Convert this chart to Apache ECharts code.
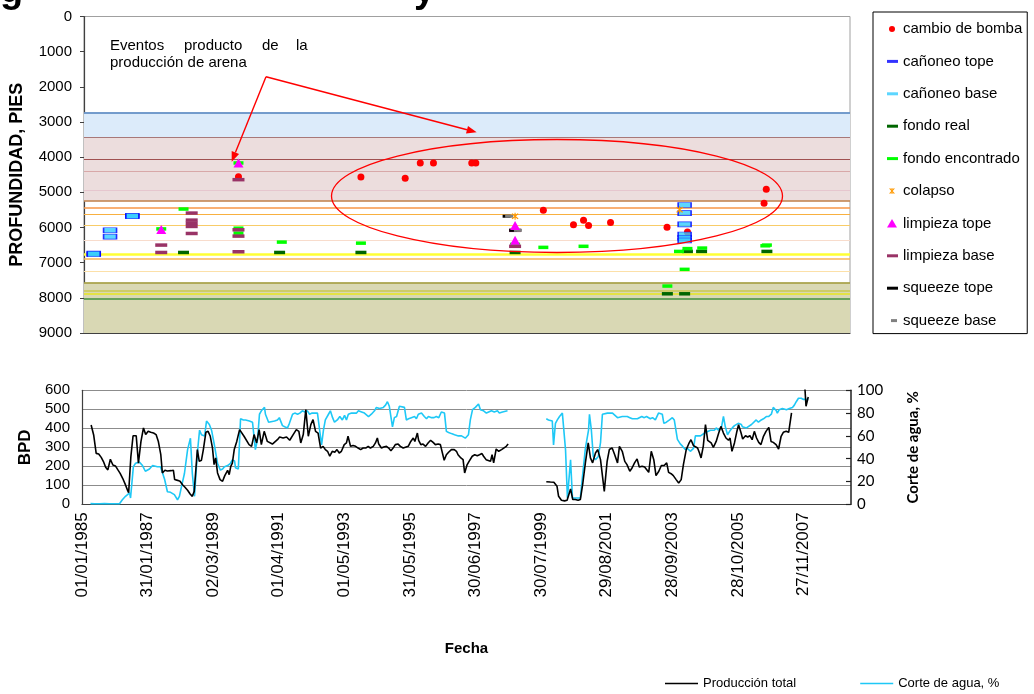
<!DOCTYPE html>
<html><head><meta charset="utf-8">
<script src="https://cdn.jsdelivr.net/npm/echarts@6/dist/echarts.min.js"></script>
<style>html,body{margin:0;padding:0;background:#fff}#c{width:1034px;height:694px}</style>
</head><body><div id="c"></div>
<script>
// ---------------- DATA ----------------
const xTickLabels = ['01/01/1985','31/01/1987','02/03/1989','01/04/1991','01/05/1993','31/05/1995','30/06/1997','30/07/1999','29/08/2001','28/09/2003','28/10/2005','27/11/2007'];
const xTickStepDays = 760;
const xMaxDays = 8911;

// formation bands (depth, ft)
const bandTop = [2725, 3440, 7563];
const bandBottom = [3440, 5250, 9000];
// horizon lines (depth, ft)
const horizonDepth = [2725, 3440, 4050, 4400, 4935, 5250, 5445, 5617, 5930, 6350, 6747, 6889, 7250, 7563, 7800, 7893, 8036];

// events: [year, depth ft]
const cambioBomba = [[1989.92,4555],[1993.82,4565],[1995.23,4600],[1995.71,4165],[1996.13,4165],[1997.35,4165],[1997.48,4165],[1999.63,5510],[2000.59,5920],[2000.91,5795],[2001.07,5945],[2001.77,5855],[2003.57,5995],[2004.22,6125],[2006.66,5310],[2006.73,4910]];
const canoneoTope = [[1985.31,6740],[1985.83,6080],[1986.54,5665],[2004.13,5360],[2004.13,5910],[2004.13,6200]];
const canoneoBase = [[1985.31,6760],[1985.83,6260],[1986.54,5680],[2004.13,5590],[2004.13,6290],[2004.13,6370]];
const fondoReal = [[1988.17,6710],[1991.23,6710],[1993.82,6710],[1998.73,6710],[2003.58,7885],[2004.13,7885],[2004.22,6680],[2004.67,6680],[2006.75,6680]];
const fondoEncontrado = [[1987.46,6040],[1988.17,5475],[1989.92,4165],[1989.92,6020],[1989.92,6160],[1991.30,6415],[1993.82,6445],[1998.73,6480],[1999.63,6565],[2000.91,6535],[2003.95,6680],[2004.22,6600],[2004.69,6585],[2004.13,7190],[2003.58,7665],[2006.70,6520],[2006.75,6500]];
const colapso = [[1998.73,5680],[2003.97,5495]];
const limpiezaTope = [[1987.46,6060],[1989.92,4165],[1998.73,5945],[1998.73,6365]];
const limpiezaBase = [[1987.46,6500],[1987.46,6710],[1988.43,5590],[1988.43,5790],[1988.43,5880],[1988.43,5970],[1988.43,6170],[1989.92,4640],[1989.92,6065],[1989.92,6245],[1989.92,6690],[1998.73,6080],[1998.73,6535]];
const squeezeTope = [[1998.46,5680],[1998.67,6080]];
const squeezeBase = [[1998.54,5680],[1998.82,6080]];

// production, BPD: [year, value]
const prodSeg1 = [[1985.29,417],[1985.37,365],[1985.45,268],[1985.53,265],[1985.61,247],[1985.68,225],[1985.75,195],[1985.82,181],[1985.90,237],[1985.98,207],[1986.06,202],[1986.14,181],[1986.21,163],[1986.29,137],[1986.38,102],[1986.45,72],[1986.48,61],[1986.55,250],[1986.62,361],[1986.72,361],[1986.79,217],[1986.87,330],[1986.95,402],[1987.02,367],[1987.10,384],[1987.18,379],[1987.27,375],[1987.35,367],[1987.42,332],[1987.50,261],[1987.55,165],[1987.63,179],[1987.71,175],[1987.82,177],[1987.90,179],[1987.94,130],[1988.03,126],[1988.11,121],[1988.19,103],[1988.26,91],[1988.35,74],[1988.43,54],[1988.50,42],[1988.56,68],[1988.66,288],[1988.72,226],[1988.79,232],[1988.85,288],[1988.93,379],[1989.00,384],[1989.07,358],[1989.14,296],[1989.19,209],[1989.24,244],[1989.30,165],[1989.38,130],[1989.46,121],[1989.53,151],[1989.62,179],[1989.67,156],[1989.72,200],[1989.77,217],[1989.83,288],[1989.91,331],[1990.00,393],[1990.06,393],[1990.14,358],[1990.30,314],[1990.38,305],[1990.46,367],[1990.54,323],[1990.62,393],[1990.69,314],[1990.78,384],[1990.88,331],[1991.04,317],[1991.20,340],[1991.27,354],[1991.38,349],[1991.49,354],[1991.59,337],[1991.70,367],[1991.80,393],[1991.88,384],[1991.94,323],[1992.02,367],[1992.10,498],[1992.18,358],[1992.26,419],[1992.33,446],[1992.41,384],[1992.49,375],[1992.57,296],[1992.65,305],[1992.72,288],[1992.79,279],[1992.86,253],[1992.94,279],[1993.02,274],[1993.09,288],[1993.16,270],[1993.23,279],[1993.32,314],[1993.39,323],[1993.44,358],[1993.52,305],[1993.60,309],[1993.68,305],[1993.76,296],[1993.84,288],[1993.92,296],[1994.00,296],[1994.08,305],[1994.15,296],[1994.24,305],[1994.31,323],[1994.37,349],[1994.41,319],[1994.50,296],[1994.57,302],[1994.66,305],[1994.73,296],[1994.80,282],[1994.87,296],[1994.94,314],[1995.03,317],[1995.10,305],[1995.19,296],[1995.26,300],[1995.35,305],[1995.43,331],[1995.51,349],[1995.56,331],[1995.64,375],[1995.68,337],[1995.75,314],[1995.82,317],[1995.90,305],[1995.98,323],[1996.06,337],[1996.14,326],[1996.21,314],[1996.30,317],[1996.37,314],[1996.43,305],[1996.49,232],[1996.56,261],[1996.63,274],[1996.72,288],[1996.81,288],[1996.88,279],[1996.93,261],[1997.02,244],[1997.09,235],[1997.14,165],[1997.22,209],[1997.28,226],[1997.38,253],[1997.46,261],[1997.54,256],[1997.61,261],[1997.69,267],[1997.74,253],[1997.82,235],[1997.88,244],[1997.96,226],[1998.01,261],[1998.06,218],[1998.14,291],[1998.22,279],[1998.31,288],[1998.38,296],[1998.46,305],[1998.52,317]];
const prodSeg2 = [[1999.73,119],[1999.86,117],[1999.97,116],[2000.02,112],[2000.07,95],[2000.12,42],[2000.21,21],[2000.31,18],[2000.39,21],[2000.50,81],[2000.57,25],[2000.65,25],[2000.74,21],[2000.81,25],[2000.89,112],[2000.97,218],[2001.06,323],[2001.13,244],[2001.20,218],[2001.29,270],[2001.36,288],[2001.45,235],[2001.50,165],[2001.57,68],[2001.66,226],[2001.73,288],[2001.82,296],[2001.90,261],[2001.99,218],[2002.05,305],[2002.14,279],[2002.22,226],[2002.29,209],[2002.38,174],[2002.45,191],[2002.53,218],[2002.61,239],[2002.68,196],[2002.77,200],[2002.85,196],[2002.93,179],[2002.98,168],[2003.06,279],[2003.14,235],[2003.21,151],[2003.30,174],[2003.38,204],[2003.47,204],[2003.55,218],[2003.61,168],[2003.69,161],[2003.76,151],[2003.85,130],[2003.93,112],[2004.01,130],[2004.08,209],[2004.17,288],[2004.25,319],[2004.32,340],[2004.40,309],[2004.46,319],[2004.53,296],[2004.59,270],[2004.64,244],[2004.71,305],[2004.78,419],[2004.85,337],[2004.96,323],[2005.03,300],[2005.12,331],[2005.20,375],[2005.27,410],[2005.35,375],[2005.43,349],[2005.51,337],[2005.56,349],[2005.62,279],[2005.70,323],[2005.77,379],[2005.83,419],[2005.91,375],[2005.96,344],[2006.05,361],[2006.12,354],[2006.19,361],[2006.26,340],[2006.33,384],[2006.40,349],[2006.47,326],[2006.54,314],[2006.62,358],[2006.70,384],[2006.79,405],[2006.86,331],[2006.93,326],[2007.02,314],[2007.10,291],[2007.18,358],[2007.25,379],[2007.34,384],[2007.42,379],[2007.51,481]];
const prodSeg3 = [[2007.92,650],[2007.97,516],[2008.04,565]];

// water cut, %: [year, value]
const cutSeg1 = [[1985.27,0.6],[1985.40,0.5],[1985.56,0.5],[1985.71,0.6],[1985.87,0.5],[1986.03,0.5],[1986.19,0.5],[1986.28,4],[1986.38,7],[1986.51,10],[1986.54,5.5],[1986.63,33],[1986.70,36],[1986.82,37],[1986.92,34],[1987.01,29],[1987.14,31],[1987.24,34],[1987.30,35],[1987.39,33],[1987.49,33],[1987.55,34],[1987.62,22],[1987.71,11],[1987.81,10.5],[1987.87,10],[1987.93,8.5],[1988.03,4],[1988.09,7],[1988.16,16],[1988.25,27],[1988.35,48],[1988.44,58],[1988.50,27],[1988.57,7],[1988.60,5.5],[1988.66,45],[1988.73,65],[1988.79,61],[1988.89,60],[1988.95,73],[1989.04,70],[1989.11,65],[1989.20,52],[1989.25,51],[1989.30,36],[1989.39,30],[1989.46,31],[1989.52,33],[1989.62,34],[1989.71,36],[1989.77,39],[1989.84,38],[1989.87,32],[1989.96,31],[1990.03,75],[1990.12,74],[1990.19,74],[1990.31,73],[1990.41,72],[1990.47,71],[1990.50,48],[1990.57,57],[1990.63,79],[1990.69,82],[1990.79,85],[1990.82,79],[1990.92,72],[1990.98,71],[1991.11,73],[1991.20,74],[1991.26,76],[1991.36,69],[1991.43,68],[1991.52,67],[1991.58,71],[1991.68,79],[1991.75,80],[1991.84,79],[1991.91,80],[1991.99,82],[1992.07,81],[1992.15,82],[1992.22,79],[1992.30,80],[1992.37,80],[1992.47,80],[1992.53,80],[1992.60,52],[1992.66,65],[1992.72,74],[1992.82,79],[1992.88,82],[1992.95,76],[1993.01,72],[1993.10,74],[1993.18,77],[1993.26,74],[1993.33,78],[1993.39,74],[1993.45,79],[1993.55,80],[1993.63,80],[1993.71,80],[1993.77,82],[1993.87,81],[1993.96,80],[1994.02,79],[1994.09,77],[1994.18,79],[1994.28,82],[1994.34,85],[1994.44,84],[1994.56,85],[1994.63,87],[1994.69,90],[1994.75,86],[1994.85,68],[1994.91,76],[1994.98,77],[1995.07,86],[1995.13,85],[1995.23,85],[1995.29,74],[1995.36,75],[1995.45,76],[1995.55,77],[1995.61,75],[1995.67,79],[1995.77,80],[1995.86,77],[1995.93,75],[1995.99,77],[1996.09,76],[1996.17,76],[1996.24,77],[1996.32,76],[1996.40,81],[1996.50,80],[1996.56,64],[1996.63,63],[1996.72,62],[1996.82,61],[1996.88,61],[1996.94,60],[1997.04,60],[1997.16,58],[1997.26,61],[1997.32,74],[1997.39,83],[1997.48,85],[1997.58,88],[1997.64,83],[1997.74,82],[1997.83,80],[1997.89,81],[1997.99,82],[1998.08,81],[1998.18,82],[1998.24,80],[1998.34,81],[1998.40,82],[1998.50,82]];
const cutSeg2 = [[1999.73,75],[1999.80,74],[1999.92,73],[1999.96,52],[2000.02,71],[2000.08,74],[2000.15,77],[2000.24,80],[2000.30,81],[2000.34,48],[2000.40,5.5],[2000.46,5.5],[2000.50,39],[2000.56,5.5],[2000.59,7],[2000.69,5.5],[2000.75,7],[2000.81,5.5],[2000.88,25],[2000.97,49],[2001.07,65],[2001.10,79],[2001.16,65],[2001.22,42],[2001.29,39],[2001.38,42],[2001.45,54],[2001.51,79],[2001.57,80],[2001.67,80],[2001.73,80],[2001.83,80],[2001.89,79],[2001.99,76],[2002.05,77],[2002.14,77],[2002.22,77],[2002.30,77],[2002.38,76],[2002.46,75],[2002.52,74],[2002.62,75],[2002.68,76],[2002.76,77],[2002.84,76],[2002.91,77],[2002.97,78],[2003.03,75],[2003.10,76],[2003.19,74],[2003.29,80],[2003.35,80],[2003.41,79],[2003.46,71],[2003.54,72],[2003.64,74],[2003.73,76],[2003.79,74],[2003.89,57],[2003.98,53],[2004.05,51],[2004.14,48],[2004.21,49],[2004.30,46.5],[2004.36,48],[2004.40,49],[2004.46,60],[2004.52,60],[2004.62,60],[2004.68,60],[2004.78,63],[2004.84,62],[2004.94,65],[2005.00,65],[2005.06,65],[2005.13,67],[2005.19,65],[2005.29,68],[2005.35,77],[2005.41,68],[2005.48,61],[2005.57,65],[2005.63,67],[2005.70,69],[2005.76,68],[2005.82,71],[2005.92,70],[2005.95,68],[2006.01,69],[2006.08,67],[2006.14,68],[2006.24,70],[2006.30,71],[2006.39,74],[2006.46,72],[2006.55,74],[2006.62,75],[2006.71,77],[2006.78,77],[2006.87,79],[2006.93,85],[2007.03,82],[2007.06,80],[2007.12,83],[2007.22,84],[2007.28,84],[2007.35,83],[2007.44,84],[2007.54,85],[2007.60,87],[2007.66,90],[2007.73,93],[2007.82,93],[2007.89,92],[2007.98,92],[2008.04,92]];

// ---------------- STYLES ----------------
const FONT = '"Liberation Sans", Arial, sans-serif';
const bandColors = ['#DCEBFA', '#ECDDDD', '#D9D8B4'];
const horizonColors = ['#4F81BD','#A87878','#A05050','#D8A8A8','#E6C6CE','#C0804A','#F79646','#F8B040','#F8CC68','#F8DCCC','#FFFF33','#F8B458','#FCE0A8','#A09A3A','#C8C850','#E6E620','#3F8F3F'];
const horizonWidths = [1.5,1.2,1.2,1.2,1.2,1.5,1.5,1.2,1.2,1.2,2.5,1.5,1.2,1.5,1.5,1.5,1.5];

const toDay = y => (y - 1985) * 365.25;
const mapEv = arr => arr.map(p => [toDay(p[0]), p[1]]);
const GAP = [toDay(1999.1), null];
const prodData = prodSeg1.map(p => [toDay(p[0]), p[1]]).concat([GAP], prodSeg2.map(p => [toDay(p[0]), p[1]]), [[toDay(2007.7), null]], prodSeg3.map(p => [toDay(p[0]), p[1]]));
const cutData = cutSeg1.map(p => [toDay(p[0]), p[1]]).concat([GAP], cutSeg2.map(p => [toDay(p[0]), p[1]]));

const BOX = 'M0,0L0,0M12,16L12,16';
const icDot = 'path://' + BOX + 'M9,8A3,3,0,1,1,3,8A3,3,0,1,1,9,8Z';
const icDash = 'path://' + BOX + 'M1,6.5H12V9.5H1Z';
const icShort = 'path://' + BOX + 'M5,6.5H11V9.5H5Z';
const icTri = 'path://' + BOX + 'M6,3.5L11,12H1Z';
const icStar = 'path://' + BOX + 'M5.5,5H6.5V11H5.5ZM3.3,5.7L4,5L8.7,10.3L8,11ZM8,5L8.7,5.7L4,11L3.3,10.3Z';
const starSym = 'path://M4.3,0H5.7V10H4.3ZM0.6,1.8L1.8,0.6L9.4,8.2L8.2,9.4ZM8.2,0.6L9.4,1.8L1.8,9.4L0.6,8.2Z';

function ev(name, data, symbol, size, color, extra) {
  return Object.assign({
    name, type: 'scatter', xAxisIndex: 0, yAxisIndex: 0, data: mapEv(data),
    symbol, symbolSize: size, itemStyle: { color, opacity: 1 }, z: 5
  }, extra || {});
}

const chart = echarts.init(document.getElementById('c'), null, { renderer: 'canvas' });
const option = {
  animation: false,
  backgroundColor: '#fff',
  textStyle: { fontFamily: FONT },
  grid: [
    { left: 82, top: 16.5, width: 768, height: 316.5, show: true, borderColor: '#A0A0A0', borderWidth: 1, backgroundColor: 'transparent' },
    { left: 82, top: 390.3, width: 769, height: 114 }
  ],
  xAxis: [
    { type: 'value', gridIndex: 0, min: 0, max: xMaxDays, position: 'bottom',
      axisLine: { show: true, onZero: false, lineStyle: { color: '#404040', width: 1.2 } },
      axisTick: { show: false }, axisLabel: { show: false }, splitLine: { show: false } },
    { type: 'value', gridIndex: 1, min: 0, max: xMaxDays, interval: xTickStepDays, position: 'bottom',
      axisLine: { show: true, onZero: false, lineStyle: { color: '#404040', width: 1.2 } },
      axisTick: { show: false }, splitLine: { show: false },
      axisLabel: { rotate: 90, margin: 8, fontSize: 17, color: '#000', fontFamily: FONT, showMaxLabel: false,
        formatter: v => { const i = Math.round(v / xTickStepDays); return (Math.abs(v - i * xTickStepDays) < 1 && xTickLabels[i]) ? xTickLabels[i] : ''; } },
      name: 'Fecha', nameLocation: 'middle', nameGap: 137,
      nameTextStyle: { fontWeight: 'bold', fontSize: 15, color: '#000', fontFamily: FONT } }
  ],
  yAxis: [
    { type: 'value', gridIndex: 0, inverse: true, min: 0, max: 9000, interval: 1000,
      axisLine: { show: true, onZero: false, lineStyle: { color: '#404040', width: 1.2 } },
      axisTick: { show: true, length: 4, lineStyle: { color: '#404040' } },
      axisLabel: { margin: 12, fontSize: 15, color: '#000', fontFamily: FONT, formatter: v => String(v) },
      splitLine: { show: false },
      name: 'PROFUNDIDAD, PIES', nameLocation: 'middle', nameRotate: 90, nameGap: 58,
      nameTextStyle: { fontWeight: 'bold', fontSize: 18, color: '#000', fontFamily: FONT } },
    { type: 'value', gridIndex: 1, min: 0, max: 600, interval: 100, position: 'left',
      axisLine: { show: true, onZero: false, lineStyle: { color: '#404040', width: 1.2 } },
      axisTick: { show: false },
      axisLabel: { margin: 12, fontSize: 15, color: '#000', fontFamily: FONT, formatter: v => String(v) },
      splitLine: { show: true, lineStyle: { color: '#8C8C8C', width: 1 } },
      name: 'BPD', nameLocation: 'middle', nameRotate: 90, nameGap: 48,
      nameTextStyle: { fontWeight: 'bold', fontSize: 17, color: '#000', fontFamily: FONT } },
    { type: 'value', gridIndex: 1, min: 0, max: 100, interval: 20, position: 'right',
      axisLine: { show: true, onZero: false, lineStyle: { color: '#202020', width: 1.5 } },
      axisTick: { show: true, inside: true, length: 5, lineStyle: { color: '#202020', width: 1.2 } },
      axisLabel: { margin: 6, fontSize: 15, color: '#000', fontFamily: 'Lato, "Open Sans", sans-serif' },
      splitLine: { show: false },
      name: 'Corte de agua, %', nameLocation: 'middle', nameRotate: 90, nameGap: 55,
      nameTextStyle: { fontWeight: 'bold', fontSize: 15, color: '#000', fontFamily: 'Lato, "Open Sans", sans-serif' } }
  ],
  legend: [
    { orient: 'vertical', left: 873, top: 12, padding: [9, 5, 5, 13], itemWidth: 12, itemHeight: 16, itemGap: 16.4,
      borderColor: '#000', borderWidth: 1, backgroundColor: '#fff', selectedMode: false, itemStyle: { borderWidth: 0 },
      textStyle: { fontSize: 15, color: '#000', fontFamily: FONT, lineHeight: 16 },
      data: [
        { name: 'cambio de bomba', icon: icDot, itemStyle: { color: '#FF0000', borderWidth: 0 } },
        { name: 'cañoneo tope', icon: icDash, itemStyle: { color: '#0000FF', borderWidth: 0 } },
        { name: 'cañoneo base', icon: icDash, itemStyle: { color: '#33CCFF', borderWidth: 0 } },
        { name: 'fondo real', icon: icDash, itemStyle: { color: '#006600', borderWidth: 0 } },
        { name: 'fondo encontrado', icon: icDash, itemStyle: { color: '#00FF00', borderWidth: 0 } },
        { name: 'colapso', icon: icStar, itemStyle: { color: '#FF9900', borderWidth: 0 } },
        { name: 'limpieza tope', icon: icTri, itemStyle: { color: '#FF00FF', borderWidth: 0 } },
        { name: 'limpieza base', icon: icDash, itemStyle: { color: '#993366', borderWidth: 0 } },
        { name: 'squeeze tope', icon: icDash, itemStyle: { color: '#000000', borderWidth: 0 } },
        { name: 'squeeze base', icon: icShort, itemStyle: { color: '#808080', borderWidth: 0 } }
      ] },
    { orient: 'horizontal', left: 660, top: 672, itemWidth: 33, itemHeight: 1.6, itemGap: 64, icon: 'rect', selectedMode: false,
      textStyle: { fontSize: 13, color: '#000', fontFamily: FONT },
      data: ['Producción total', 'Corte de agua, %'] }
  ],
  series: [
    { name: '__bands', type: 'line', xAxisIndex: 0, yAxisIndex: 0, data: [], silent: true, z: 1,
      markArea: { silent: true, data: bandTop.map((t, i) => [{ yAxis: t, itemStyle: { color: bandColors[i] } }, { yAxis: bandBottom[i] }]) },
      markLine: { silent: true, symbol: ['none', 'none'], label: { show: false },
        data: horizonDepth.map((d, i) => ({ yAxis: d, lineStyle: { color: horizonColors[i], width: horizonWidths[i], type: 'solid' } })) } },
    ev('cambio de bomba', cambioBomba, 'circle', 7, '#FF0000'),
    ev('cañoneo tope', canoneoTope, 'rect', [13, 5], '#33CCFF', { itemStyle: { color: '#33CCFF', borderColor: '#0000FF', borderWidth: 1 } }),
    ev('cañoneo base', canoneoBase, 'rect', [13, 5], '#33CCFF', { itemStyle: { color: '#33CCFF', borderColor: '#0000FF', borderWidth: 1 } }),
    ev('fondo real', fondoReal, 'rect', [11, 3.5], '#006600'),
    ev('fondo encontrado', fondoEncontrado, 'rect', [10, 3.5], '#00FF00'),
    ev('colapso', colapso, starSym, 7, '#FF9900'),
    ev('limpieza tope', limpiezaTope, 'triangle', [10, 9], '#FF00FF', { z: 6 }),
    ev('limpieza base', limpiezaBase, 'rect', [12, 3.5], '#993366'),
    ev('squeeze tope', squeezeTope, 'rect', [8, 3], '#000000'),
    ev('squeeze base', squeezeBase, 'rect', [8, 3], '#808080'),
    { name: 'Producción total', type: 'line', xAxisIndex: 1, yAxisIndex: 1, data: prodData, symbol: 'none', showSymbol: false,
      connectNulls: false, clip: true, lineStyle: { color: '#000000', width: 1.6 }, itemStyle: { color: '#000000' }, z: 4 },
    { name: 'Corte de agua, %', type: 'line', xAxisIndex: 1, yAxisIndex: 2, data: cutData, symbol: 'none', showSymbol: false,
      connectNulls: false, clip: true, lineStyle: { color: '#1EC8F6', width: 1.6 }, itemStyle: { color: '#1EC8F6' }, z: 3 }
  ],
  graphic: [
    { type: 'text', x: 0, y: -8, style: { text: 'g', font: 'bold 38px ' + FONT, fill: '#000', verticalAlign: 'middle' } },
    { type: 'text', x: 414, y: -8, style: { text: 'y', font: 'bold 38px ' + FONT, fill: '#000', verticalAlign: 'middle' } },
    { type: 'text', x: 110, y: 46, style: { text: 'Eventos', font: '15px ' + FONT, fill: '#000', verticalAlign: 'middle' } },
    { type: 'text', x: 184, y: 46, style: { text: 'producto', font: '15px ' + FONT, fill: '#000', verticalAlign: 'middle' } },
    { type: 'text', x: 262, y: 46, style: { text: 'de', font: '15px ' + FONT, fill: '#000', verticalAlign: 'middle' } },
    { type: 'text', x: 296, y: 46, style: { text: 'la', font: '15px ' + FONT, fill: '#000', verticalAlign: 'middle' } },
    { type: 'text', x: 110, y: 63, style: { text: 'producción de arena', font: '15px ' + FONT, fill: '#000', verticalAlign: 'middle' } },
    { type: 'ellipse', z: 100, shape: { cx: 557, cy: 196, rx: 225.5, ry: 56.5 }, style: { fill: 'none', stroke: '#FF0000', lineWidth: 1.3 } },
    { type: 'line', z: 100, shape: { x1: 266, y1: 76.7, x2: 235.4, y2: 152.4 }, style: { stroke: '#FF0000', lineWidth: 1.4 } },
    { type: 'polygon', z: 100, shape: { points: [[231.7, 161.7], [239.1, 153.9], [231.7, 150.9]] }, style: { fill: '#FF0000' } },
    { type: 'line', z: 100, shape: { x1: 266, y1: 76.7, x2: 467, y2: 129.8 }, style: { stroke: '#FF0000', lineWidth: 1.4 } },
    { type: 'polygon', z: 100, shape: { points: [[476.7, 132.3], [466.0, 133.6], [468.0, 125.9]] }, style: { fill: '#FF0000' } }
  ]
};
chart.setOption(option);
</script>
</body></html>
